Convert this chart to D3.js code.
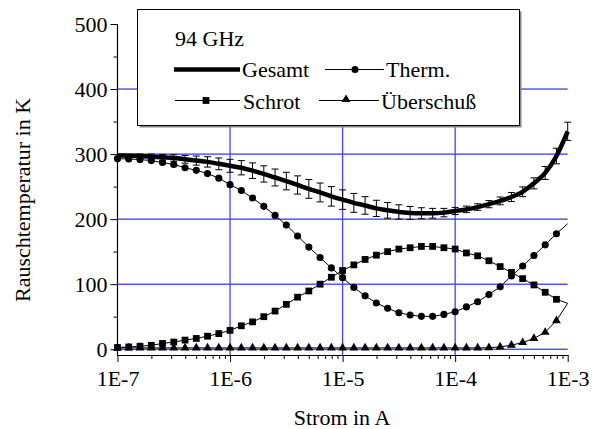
<!DOCTYPE html>
<html>
<head>
<meta charset="utf-8">
<script src="https://cdn.jsdelivr.net/npm/d3@7"></script>
</head>
<body style="margin:0;padding:0;background:#fff">
<svg id="chart" width="592" height="429" style="display:block"></svg>
<script>
// log10 of current (A)
const logCurrent = [-7.0,-6.9,-6.8,-6.7,-6.6,-6.5,-6.4,-6.3,-6.2,-6.1,
  -6.0,-5.9,-5.8,-5.7,-5.6,-5.5,-5.4,-5.3,-5.2,-5.1,
  -5.0,-4.9,-4.8,-4.7,-4.6,-4.5,-4.4,-4.3,-4.2,-4.1,
  -4.0,-3.9,-3.8,-3.7,-3.6,-3.5,-3.4,-3.3,-3.2,-3.1,-3.0];
const gesamt = [298,297.5,297,296,295,294,292,290,288,285,
  282,279,274.5,269.5,264,258.5,252.5,246.5,241,235,
  230,225,221,216.5,213.5,211,209.5,209,209,210,
  212.5,215,218.5,223,228,234,242,255,271,297,335];
const gesamtErr = [0,2,3,4,4.5,5,6,7,8,9,
  10,11,12,12.5,13,13.5,14,14.5,14.5,15,
  15,14.5,13.5,12.5,12,11,10,8.5,7.5,6.5,
  5.5,5,5,5.5,6,7,7.5,8.5,10,12,14];
const therm = [293,292.5,291.5,290,287,284,279,275,270,263,
  253,244,232.5,219.6,205.7,191,174,157,141,125,
  110,95,82,71,63,56,52.5,50.5,50.5,53.5,
  57.6,65,73,84,96,112.6,128,144,160.5,177.5,193];
const schrot = [2.6,3.5,4.6,6,8.8,11,14,16.5,20,24,
  29,36,42,50,58.6,69,80,89.5,100,110.6,
  121,129.6,138,144.6,150,154,156,158,158,156,
  154,148,143.5,136,127,118,108.5,98.8,87.5,76.7,70.5];
const ueber = [2,2,2,2,2,2,2,2,2,2,
  2,2,2,2,2,2,2,2,2,2,
  2,2,2,2,2,2,2,2,2,2,
  2,2,2,2.3,3.5,6.2,10.3,16.5,26,44,70.5];
const majorX = [1e-7,1e-6,1e-5,1e-4,1e-3];
const majorXLabels = ["1E-7","1E-6","1E-5","1E-4","1E-3"];
const yTicks = [0,100,200,300,400,500];
const yMinor = [50,150,250,350,450];
const legendTitle = "94 GHz";
const seriesNames = ["Gesamt","Therm.","Schrot","Überschuß"];
const xTitle = "Strom in A";
const yTitle = "Rauschtemperatur in K";

const FF = "Liberation Serif";
const FONT = "22px";
const svg = d3.select("#chart");
const x = d3.scaleLog().domain([1e-7,1e-3]).range([117.5,567.7]);
const y = d3.scaleLinear().domain([0,500]).range([349.2,24]);
const axisY = 355;
const cur = logCurrent.map(v => Math.pow(10, v));
const txt = (sel) => sel.style("font-family",FF).style("font-size",FONT).attr("fill","#000");

// grid
const grid = svg.append("g");
grid.selectAll("line.h").data([0,100,200,300,400]).enter().append("line")
  .attr("x1", x(1e-7)).attr("x2", x(1e-3))
  .attr("y1", d => y(d)).attr("y2", d => y(d))
  .attr("stroke","#0000ff").attr("stroke-width",1);
grid.selectAll("line.v").data([1e-6,1e-5,1e-4]).enter().append("line")
  .attr("x1", d => x(d)).attr("x2", d => x(d))
  .attr("y1", y(500)).attr("y2", axisY)
  .attr("stroke","#4040ff").attr("stroke-width",1.3);

// series lines
const line = (arr) => d3.line().x((d,i)=>x(cur[i])).y(d=>y(d))(arr);
const lineSmooth = (arr) => d3.line().curve(d3.curveMonotoneX).x((d,i)=>x(cur[i])).y(d=>y(d))(arr);
[therm, schrot, ueber].forEach(s => {
  svg.append("path").attr("d", line(s)).attr("fill","none").attr("stroke","#000").attr("stroke-width",1);
});

// markers (not at the last point)
const symGen = {
  circle: d3.symbol().type(d3.symbolCircle).size(40),
  square: d3.symbol().type(d3.symbolSquare).size(46),
  triangle: d3.symbol().type(d3.symbolTriangle).size(34)
};
function markers(arr, type){
  svg.append("g").selectAll("path").data(arr.slice(0,40)).enter().append("path")
    .attr("d", symGen[type]())
    .attr("transform", (d,i)=>`translate(${x(cur[i])},${y(d)})`)
    .attr("fill","#000");
}
markers(therm,"circle");
markers(schrot,"square");
markers(ueber,"triangle");

// error bars for Gesamt
const eb = svg.append("g").attr("stroke","#000").attr("stroke-width",1);
gesamt.forEach((g,i) => {
  const e = gesamtErr[i];
  if (e <= 0) return;
  const cx = x(cur[i]);
  eb.append("line").attr("x1",cx).attr("x2",cx).attr("y1",y(g+e)).attr("y2",y(g-e));
  eb.append("line").attr("x1",cx-3.5).attr("x2",cx+3.5).attr("y1",y(g+e)).attr("y2",y(g+e));
  eb.append("line").attr("x1",cx-3.5).attr("x2",cx+3.5).attr("y1",y(g-e)).attr("y2",y(g-e));
});
svg.append("path").attr("d", lineSmooth(gesamt)).attr("fill","none")
  .attr("stroke","#000").attr("stroke-width",4.5).attr("stroke-linejoin","round");

// axes
const xMinor = [];
for (let d = -7; d < -3; d++) for (let m = 2; m <= 9; m++) xMinor.push(m*Math.pow(10,d));
const xAxis = d3.axisBottom(x).tickValues(majorX)
  .tickFormat((d,i)=>majorXLabels[i]).tickSize(7).tickSizeOuter(0).tickPadding(8);
const gx = svg.append("g").attr("transform",`translate(0,${axisY})`).call(xAxis);
gx.select(".domain").remove();
gx.selectAll("text").call(txt);
gx.selectAll("line").attr("stroke","#000");
svg.append("g").attr("transform",`translate(0,${axisY})`)
  .call(d3.axisBottom(x).tickValues(xMinor).tickFormat("").tickSize(4).tickSizeOuter(0))
  .call(g=>g.select(".domain").remove())
  .selectAll("line").attr("stroke","#000");
svg.append("line").attr("x1",x(1e-7)).attr("x2",x(1e-3)+0.5).attr("y1",axisY+0.5).attr("y2",axisY+0.5)
  .attr("stroke","#000").attr("stroke-width",1.2);

const yAxis = d3.axisLeft(y).tickValues(yTicks).tickSize(7).tickSizeOuter(0).tickPadding(3);
const gy = svg.append("g").attr("transform",`translate(${x(1e-7)},0)`).call(yAxis);
gy.select(".domain").remove();
gy.selectAll("text").call(txt);
gy.selectAll("line").attr("stroke","#000");
svg.append("g").attr("transform",`translate(${x(1e-7)},0)`)
  .call(d3.axisLeft(y).tickValues(yMinor).tickFormat("").tickSize(4).tickSizeOuter(0))
  .call(g=>g.select(".domain").remove())
  .selectAll("line").attr("stroke","#000");
svg.append("line").attr("x1",x(1e-7)).attr("x2",x(1e-7)).attr("y1",y(500)).attr("y2",axisY+1)
  .attr("stroke","#000").attr("stroke-width",1.2);

// titles
svg.append("text").attr("x",342).attr("y",425).attr("text-anchor","middle").call(txt).text(xTitle);
svg.append("text").attr("transform","translate(29.5,200) rotate(-90)").attr("text-anchor","middle")
  .call(txt).text(yTitle);

// legend
const lg = svg.append("g");
lg.append("rect").attr("x",139.5).attr("y",11.5).attr("width",382).attr("height",116)
  .attr("fill","#888");
lg.append("rect").attr("x",137.5).attr("y",9.5).attr("width",382).attr("height",116)
  .attr("fill","#fff").attr("stroke","#000").attr("stroke-width",1);
lg.append("text").attr("x",175).attr("y",46).call(txt).text(legendTitle);
// Gesamt
lg.append("line").attr("x1",174).attr("x2",240).attr("y1",69.5).attr("y2",69.5)
  .attr("stroke","#000").attr("stroke-width",4.5);
lg.append("text").attr("x",242).attr("y",77).call(txt).text(seriesNames[0]);
// Therm.
lg.append("line").attr("x1",325).attr("x2",384).attr("y1",69.5).attr("y2",69.5)
  .attr("stroke","#000").attr("stroke-width",1);
lg.append("path").attr("d",symGen.circle()).attr("transform","translate(355,69.5)");
lg.append("text").attr("x",386).attr("y",77).call(txt).text(seriesNames[1]);
// Schrot
lg.append("line").attr("x1",175).attr("x2",240).attr("y1",100.5).attr("y2",100.5)
  .attr("stroke","#000").attr("stroke-width",1);
lg.append("path").attr("d",symGen.square()).attr("transform","translate(206,100.5)");
lg.append("text").attr("x",243).attr("y",108.5).call(txt).text(seriesNames[2]);
// Überschuß
lg.append("line").attr("x1",319).attr("x2",379).attr("y1",100.5).attr("y2",100.5)
  .attr("stroke","#000").attr("stroke-width",1);
lg.append("path").attr("d",symGen.triangle()).attr("transform","translate(346,99.5)");
lg.append("text").attr("x",381).attr("y",108.5).call(txt).text(seriesNames[3]);
</script>
</body>
</html>
